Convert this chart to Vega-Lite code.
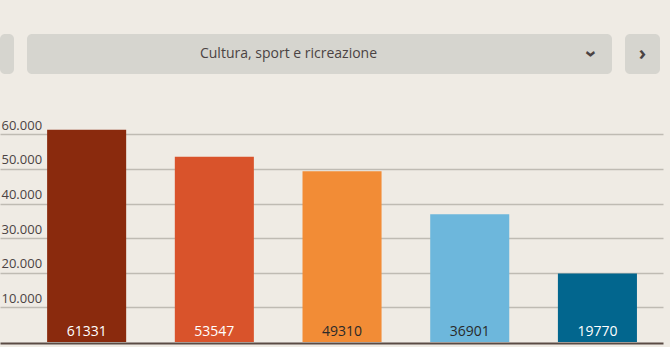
{
  "$schema": "https://vega.github.io/schema/vega-lite/v6.json",
  "background": "#efebe4",
  "padding": {"left": 0, "top": 34, "right": 7, "bottom": 4},
  "spacing": 43,
  "config": {"view": {"stroke": null}, "font": "Open Sans"},
  "vconcat": [
    {
      "spacing": 13,
      "hconcat": [
        {
          "width": 14, "height": 40,
          "view": {"fill": "#d6d5cf", "cornerRadius": 5, "stroke": null},
          "data": {"values": [{"label": ""}]},
          "mark": {"type": "text"},
          "encoding": {"text": {"field": "label"}}
        },
        {
          "width": 585, "height": 40,
          "view": {"fill": "#d6d5cf", "cornerRadius": 5, "stroke": null},
          "data": {"values": [{"label": "Cultura, sport e ricreazione"}]},
          "layer": [
            {
              "mark": {"type": "text", "dx": -31, "fontSize": 14, "color": "#4b4343", "baseline": "middle"},
              "encoding": {"text": {"field": "label"}}
            },
            {
              "mark": {"type": "text", "text": "›", "angle": 90, "dy": -271, "fontSize": 20, "fontWeight": "bold", "color": "#4b4343", "baseline": "middle", "align": "center"},
              "encoding": {}
            }
          ]
        },
        {
          "width": 35, "height": 40,
          "view": {"fill": "#d6d5cf", "cornerRadius": 5, "stroke": null},
          "data": {"values": [{"label": "›"}]},
          "mark": {"type": "text", "fontSize": 20, "fontWeight": "bold", "color": "#4b4343", "baseline": "middle", "align": "center"},
          "encoding": {"text": {"field": "label"}}
        }
      ]
    },
    {
      "width": 663, "height": 225,
      "data": {"values": [
        {"cat": "1", "value": 61331},
        {"cat": "2", "value": 53547},
        {"cat": "3", "value": 49310},
        {"cat": "4", "value": 36901},
        {"cat": "5", "value": 19770}
      ]},
      "encoding": {
        "x": {
          "field": "cat", "type": "nominal", "sort": null,
          "scale": {"paddingInner": 0.381, "paddingOuter": 0.2865, "align": 0.644},
          "axis": {"title": null, "labels": false, "ticks": false, "grid": false, "domain": true, "domainColor": "#5a4b44", "domainWidth": 2, "offset": 1}
        }
      },
      "layer": [
        {
          "mark": {"type": "bar"},
          "encoding": {
            "y": {
              "field": "value", "type": "quantitative",
              "scale": {"domain": [0, 65000]},
              "axis": {
                "title": null, "values": [10000, 20000, 30000, 40000, 50000, 60000],
                "grid": true, "gridColor": "#bfbbb3", "gridWidth": 1.5,
                "domain": false, "ticks": false, "tickSize": 0,
                "labelAlign": "left", "labelBaseline": "alphabetic", "labelOffset": -5, "labelPadding": -1,
                "labelFont": "Open Sans", "labelFontSize": 13, "labelColor": "#4b4343",
                "labelExpr": "replace(datum.label, ',', '.')"
              }
            },
            "color": {
              "field": "cat", "type": "nominal", "legend": null,
              "scale": {"range": ["#8a2a0d", "#d9532b", "#f28c36", "#6db7dc", "#02668e"]}
            }
          }
        },
        {
          "mark": {"type": "text", "baseline": "alphabetic", "dy": -6, "fontSize": 14, "font": "Open Sans"},
          "encoding": {
            "y": {"datum": 0},
            "text": {"field": "value", "type": "nominal"},
            "color": {
              "condition": {"test": "datum.cat == '3' || datum.cat == '4'", "value": "#2a2a2a"},
              "value": "#ffffff"
            }
          }
        }
      ]
    }
  ]
}
